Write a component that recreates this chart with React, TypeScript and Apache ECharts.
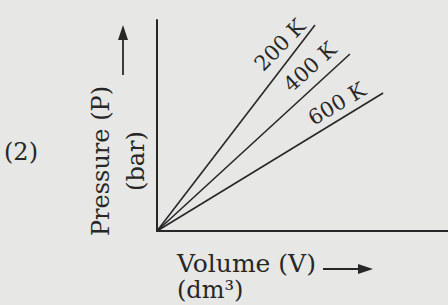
import React, { useEffect, useRef } from "react";
import * as echarts from "echarts";

const temperatures = ["200 K", "400 K", "600 K"];
// end points of each isotherm line (volume, pressure) in arbitrary units
const endVolumes = [5.43, 6.63, 7.77];
const endPressures = [9.76, 8.39, 6.54];
const xTitle = "Volume (V)";
const xUnit = "(dm³)";
const yTitle = "Pressure (P)";
const yUnit = "(bar)";
const figLabel = "(2)";

const INK = "#272727";
const FONT = "'DejaVu Serif', serif";

export default function App() {
  const ref = useRef<HTMLDivElement>(null);
  useEffect(() => {
    if (!ref.current) return;
    const chart = echarts.init(ref.current, null, { renderer: "svg" });
    const labelPos = [
      { x: 280, y: 45, rot: 46 },
      { x: 310, y: 67, rot: 42 },
      { x: 337, y: 104, rot: 31 },
    ];
    const axisCommon = {
      type: "value" as const,
      min: 0,
      max: 10,
      axisLine: { show: true, onZero: false, lineStyle: { color: INK, width: 2 } },
      axisTick: { show: false },
      axisLabel: { show: false },
      splitLine: { show: false },
    };
    chart.setOption({
      animation: false,
      backgroundColor: "#e7e7e5",
      grid: { left: 157, top: 20, right: 0, bottom: 74 },
      xAxis: axisCommon,
      yAxis: axisCommon,
      series: temperatures.map((t, i) => ({
        type: "line",
        name: t,
        data: [
          [0, 0],
          [endVolumes[i], endPressures[i]],
        ],
        showSymbol: false,
        symbol: "none",
        lineStyle: { color: INK, width: 1.6 },
      })),
      graphic: [
        ...temperatures.map((t, i) => ({
          type: "text",
          x: labelPos[i].x,
          y: labelPos[i].y,
          rotation: (labelPos[i].rot * Math.PI) / 180,
          style: {
            text: t,
            fill: INK,
            font: `21px ${FONT}`,
            align: "center",
            verticalAlign: "middle",
          },
        })),
        {
          type: "text",
          x: 177,
          y: 263,
          style: { text: xTitle, fill: INK, font: `25px ${FONT}`, align: "left", verticalAlign: "middle" },
        },
        {
          type: "text",
          x: 177,
          y: 290,
          style: { text: xUnit, fill: INK, font: `24px ${FONT}`, align: "left", verticalAlign: "middle" },
        },
        { type: "line", shape: { x1: 323, y1: 269, x2: 360, y2: 269 }, style: { stroke: INK, lineWidth: 1.8 } },
        { type: "polygon", shape: { points: [[373, 269], [358, 264], [358, 274]] }, style: { fill: INK } },
        {
          type: "text",
          x: 101,
          y: 161,
          rotation: Math.PI / 2,
          style: { text: yTitle, fill: INK, font: `24px ${FONT}`, align: "center", verticalAlign: "middle" },
        },
        {
          type: "text",
          x: 136,
          y: 161,
          rotation: Math.PI / 2,
          style: { text: yUnit, fill: INK, font: `24px ${FONT}`, align: "center", verticalAlign: "middle" },
        },
        { type: "line", shape: { x1: 123, y1: 75, x2: 123, y2: 38 }, style: { stroke: INK, lineWidth: 1.8 } },
        { type: "polygon", shape: { points: [[123, 25], [118, 40], [128, 40]] }, style: { fill: INK } },
        {
          type: "text",
          x: 21,
          y: 152,
          style: { text: figLabel, fill: INK, font: `24px ${FONT}`, align: "center", verticalAlign: "middle" },
        },
      ],
    });
    return () => chart.dispose();
  }, []);
  return (
    <div
      ref={ref}
      style={{ position: "fixed", left: 0, top: 0, width: 448, height: 305 }}
    />
  );
}
